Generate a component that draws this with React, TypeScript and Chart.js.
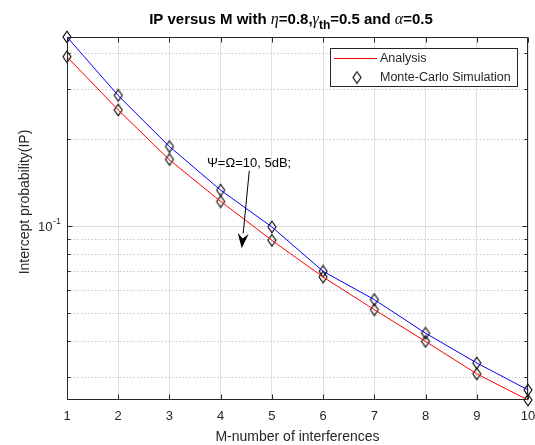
import React, { useEffect, useRef } from 'react';
import { Chart, registerables } from 'chart.js';

Chart.register(...registerables);

// ---- data ----
const M = [1, 2, 3, 4, 5, 6, 7, 8, 9, 10];
const analysisLow = [0.387, 0.253, 0.170, 0.122, 0.0894, 0.0667, 0.0514, 0.0399, 0.0308, 0.025];
const analysisHigh = [0.453, 0.284, 0.189, 0.1334, 0.0995, 0.0698, 0.0557, 0.0426, 0.0336, 0.0271];
const simLow = [0.387, 0.253, 0.1705, 0.1218, 0.0894, 0.0667, 0.0514, 0.0399, 0.0308, 0.025];
const simHigh = [0.453, 0.2843, 0.189, 0.1334, 0.0995, 0.0698, 0.0557, 0.0426, 0.0336, 0.0271];
const yMin = 0.025;
const yMax = 0.453;
const yGridTicks = [0.03, 0.04, 0.05, 0.06, 0.07, 0.08, 0.09, 0.1, 0.2, 0.3, 0.4];
const yLabelTick = 0.1;

const FONT = "'Liberation Sans', Arial, Helvetica, sans-serif";
const SERIF = "'Liberation Serif', 'DejaVu Serif', serif";
const AXIS = '#262626';
const RED = '#ff0000';
const BLUE = '#0000ff';

function makeDiamond(): HTMLCanvasElement {
  const c = document.createElement('canvas');
  c.width = 12;
  c.height = 14;
  const g = c.getContext('2d')!;
  g.strokeStyle = '#000';
  g.lineWidth = 1.1;
  g.beginPath();
  g.moveTo(6, 1.2);
  g.lineTo(10, 7);
  g.lineTo(6, 12.8);
  g.lineTo(2, 7);
  g.closePath();
  g.stroke();
  return c;
}

const decor = {
  id: 'decor',
  beforeDatasetsDraw(chart: any) {
    const { ctx, chartArea: a, scales } = chart;
    const y = scales.y;
    ctx.save();
    ctx.lineWidth = 1;
    for (const v of yGridTicks) {
      const py = Math.round(y.getPixelForValue(v)) + 0.5;
      ctx.beginPath();
      if (v === yLabelTick) {
        ctx.setLineDash([]);
        ctx.strokeStyle = '#dcdcdc';
      } else {
        ctx.setLineDash([1.5, 2]);
        ctx.strokeStyle = '#c8c8c8';
      }
      ctx.moveTo(a.left, py);
      ctx.lineTo(a.right, py);
      ctx.stroke();
    }
    ctx.restore();
  },
  afterDraw(chart: any) {
    const { ctx, chartArea: a, scales } = chart;
    const x = scales.x;
    const y = scales.y;
    ctx.save();
    ctx.setLineDash([]);

    // box
    ctx.strokeStyle = AXIS;
    ctx.lineWidth = 1;
    const L = Math.round(a.left) + 0.5;
    const R = Math.round(a.right) - 0.5;
    const T = Math.round(a.top) + 0.5;
    const B = Math.round(a.bottom) - 0.5;
    ctx.beginPath();
    ctx.rect(L, T, R - L, B - T);
    ctx.stroke();

    // x ticks (inward, top and bottom)
    ctx.beginPath();
    for (const v of M) {
      const px = Math.round(x.getPixelForValue(v)) + 0.5;
      ctx.moveTo(px, B);
      ctx.lineTo(px, B - 5);
      ctx.moveTo(px, T);
      ctx.lineTo(px, T + 5);
    }
    // y ticks
    for (const v of yGridTicks) {
      const py = Math.round(y.getPixelForValue(v)) + 0.5;
      const len = v === yLabelTick ? 5 : 3;
      ctx.moveTo(L, py);
      ctx.lineTo(L + len, py);
      ctx.moveTo(R, py);
      ctx.lineTo(R - len, py);
    }
    ctx.stroke();

    // y tick label 10^-1
    ctx.fillStyle = AXIS;
    const p1 = y.getPixelForValue(yLabelTick);
    ctx.font = `13px ${FONT}`;
    ctx.textBaseline = 'middle';
    ctx.textAlign = 'left';
    ctx.fillText('10', 38, p1 + 1);
    const w10 = ctx.measureText('10').width;
    ctx.font = `9px ${FONT}`;
    ctx.fillText('-1', 38 + w10 + 0.5, p1 - 5);

    // axis titles
    ctx.font = `14px ${FONT}`;
    ctx.textAlign = 'center';
    ctx.fillText('M-number of interferences', (a.left + a.right) / 2, 437);
    ctx.save();
    ctx.translate(25, 202);
    ctx.rotate(-Math.PI / 2);
    ctx.fillText('Intercept probability(IP)', 0, 0);
    ctx.restore();

    // title with Greek + subscript
    const segs = [
      { t: 'IP versus M with ', f: `bold 15px ${FONT}`, dy: 0 },
      { t: 'η', f: `italic 16px ${SERIF}`, dy: 0 },
      { t: '=0.8,', f: `bold 15px ${FONT}`, dy: 0 },
      { t: 'γ', f: `italic 16px ${SERIF}`, dy: 0 },
      { t: 'th', f: `bold 12px ${FONT}`, dy: 5 },
      { t: '=0.5 and ', f: `bold 15px ${FONT}`, dy: 0 },
      { t: 'α', f: `italic 16px ${SERIF}`, dy: 0 },
      { t: '=0.5', f: `bold 15px ${FONT}`, dy: 0 },
    ];
    let total = 0;
    for (const s of segs) {
      ctx.font = s.f;
      total += ctx.measureText(s.t).width;
    }
    let tx = 291 - total / 2;
    ctx.textAlign = 'left';
    ctx.textBaseline = 'alphabetic';
    ctx.fillStyle = '#000';
    for (const s of segs) {
      ctx.font = s.f;
      ctx.fillText(s.t, tx, 24 + s.dy);
      tx += ctx.measureText(s.t).width;
    }

    // annotation
    ctx.fillStyle = '#000';
    ctx.font = `13px ${FONT}`;
    ctx.textBaseline = 'middle';
    ctx.fillText('Ψ=Ω=10, 5dB;', 207, 163);
    const ax0 = 249.3, ay0 = 170.7, ax1 = 241.7, ay1 = 248.3;
    const ang = Math.atan2(ay1 - ay0, ax1 - ax0);
    const hl = 15, hw = 5.5;
    const bx = ax1 - hl * Math.cos(ang), by = ay1 - hl * Math.sin(ang);
    ctx.strokeStyle = '#000';
    ctx.lineWidth = 1;
    ctx.beginPath();
    ctx.moveTo(ax0, ay0);
    ctx.lineTo(bx, by);
    ctx.stroke();
    ctx.beginPath();
    ctx.moveTo(ax1, ay1);
    ctx.lineTo(bx + hw * Math.sin(ang), by - hw * Math.cos(ang));
    ctx.lineTo(bx + 0.35 * hl * Math.cos(ang), by + 0.35 * hl * Math.sin(ang));
    ctx.lineTo(bx - hw * Math.sin(ang), by + hw * Math.cos(ang));
    ctx.closePath();
    ctx.fill();

    // legend
    ctx.fillStyle = '#fff';
    ctx.fillRect(330.5, 48.5, 187, 38);
    ctx.strokeStyle = AXIS;
    ctx.strokeRect(330.5, 48.5, 187, 38);
    ctx.strokeStyle = RED;
    ctx.beginPath();
    ctx.moveTo(334, 58.5);
    ctx.lineTo(377, 58.5);
    ctx.stroke();
    const d = chart.data.datasets[2].pointStyle as HTMLCanvasElement;
    ctx.drawImage(d, 357 - d.width / 2, 77.5 - d.height / 2);
    ctx.fillStyle = AXIS;
    ctx.font = `12.5px ${FONT}`;
    ctx.textBaseline = 'middle';
    ctx.fillText('Analysis', 380, 58.5);
    ctx.fillText('Monte-Carlo Simulation', 380, 77.5);

    ctx.restore();
  },
};

export default function App() {
  const ref = useRef<HTMLCanvasElement>(null);
  useEffect(() => {
    document.body.style.margin = '0';
    const diamond = makeDiamond();
    const chart = new Chart(ref.current!, {
      type: 'line',
      data: {
        labels: M,
        datasets: [
          { label: 'Analysis', data: M.map((m, i) => ({ x: m, y: analysisLow[i] })), borderColor: RED, borderWidth: 1, pointRadius: 0, tension: 0, clip: false as any },
          { label: 'Analysis 2', data: M.map((m, i) => ({ x: m, y: analysisHigh[i] })), borderColor: BLUE, borderWidth: 1, pointRadius: 0, tension: 0, clip: false as any },
          { label: 'Monte-Carlo Simulation', data: M.map((m, i) => ({ x: m, y: simLow[i] })), showLine: false, pointStyle: diamond as any, pointRadius: 5, borderColor: '#000', clip: false as any },
          { label: 'Monte-Carlo Simulation 2', data: M.map((m, i) => ({ x: m, y: simHigh[i] })), showLine: false, pointStyle: diamond as any, pointRadius: 5, borderColor: '#000', clip: false as any },
        ],
      },
      options: {
        animation: false,
        responsive: false,
        devicePixelRatio: 1,
        layout: { padding: { left: 67, right: 7, top: 37, bottom: 0 } },
        plugins: { legend: { display: false }, tooltip: { enabled: false }, title: { display: false } },
        scales: {
          x: {
            type: 'linear',
            min: 1,
            max: 10,
            afterBuildTicks: (s: any) => { s.ticks = M.map((v) => ({ value: v })); },
            afterFit: (s: any) => { s.height = 45; s.paddingLeft = 0; s.paddingRight = 0; },
            ticks: { autoSkip: false, maxRotation: 0, padding: 9, color: AXIS, font: { size: 13, family: FONT }, callback: (v: any) => String(v) },
            grid: { color: '#e0e0e0', drawTicks: false, lineWidth: 1 },
            border: { display: false },
          },
          y: {
            type: 'logarithmic',
            min: yMin,
            max: yMax,
            afterBuildTicks: (s: any) => { s.ticks = yGridTicks.map((v) => ({ value: v })); },
            afterFit: (s: any) => { s.width = 0; s.paddingTop = 0; s.paddingBottom = 0; },
            ticks: { display: false },
            grid: { display: false },
            border: { display: false },
          },
        },
      },
      plugins: [decor],
    } as any);
    return () => chart.destroy();
  }, []);
  return (
    <div style={{ position: 'absolute', left: 0, top: 0, width: 535, height: 445, background: '#fff' }}>
      <canvas ref={ref} width={535} height={445} style={{ display: 'block', width: 535, height: 445 }} />
    </div>
  );
}
